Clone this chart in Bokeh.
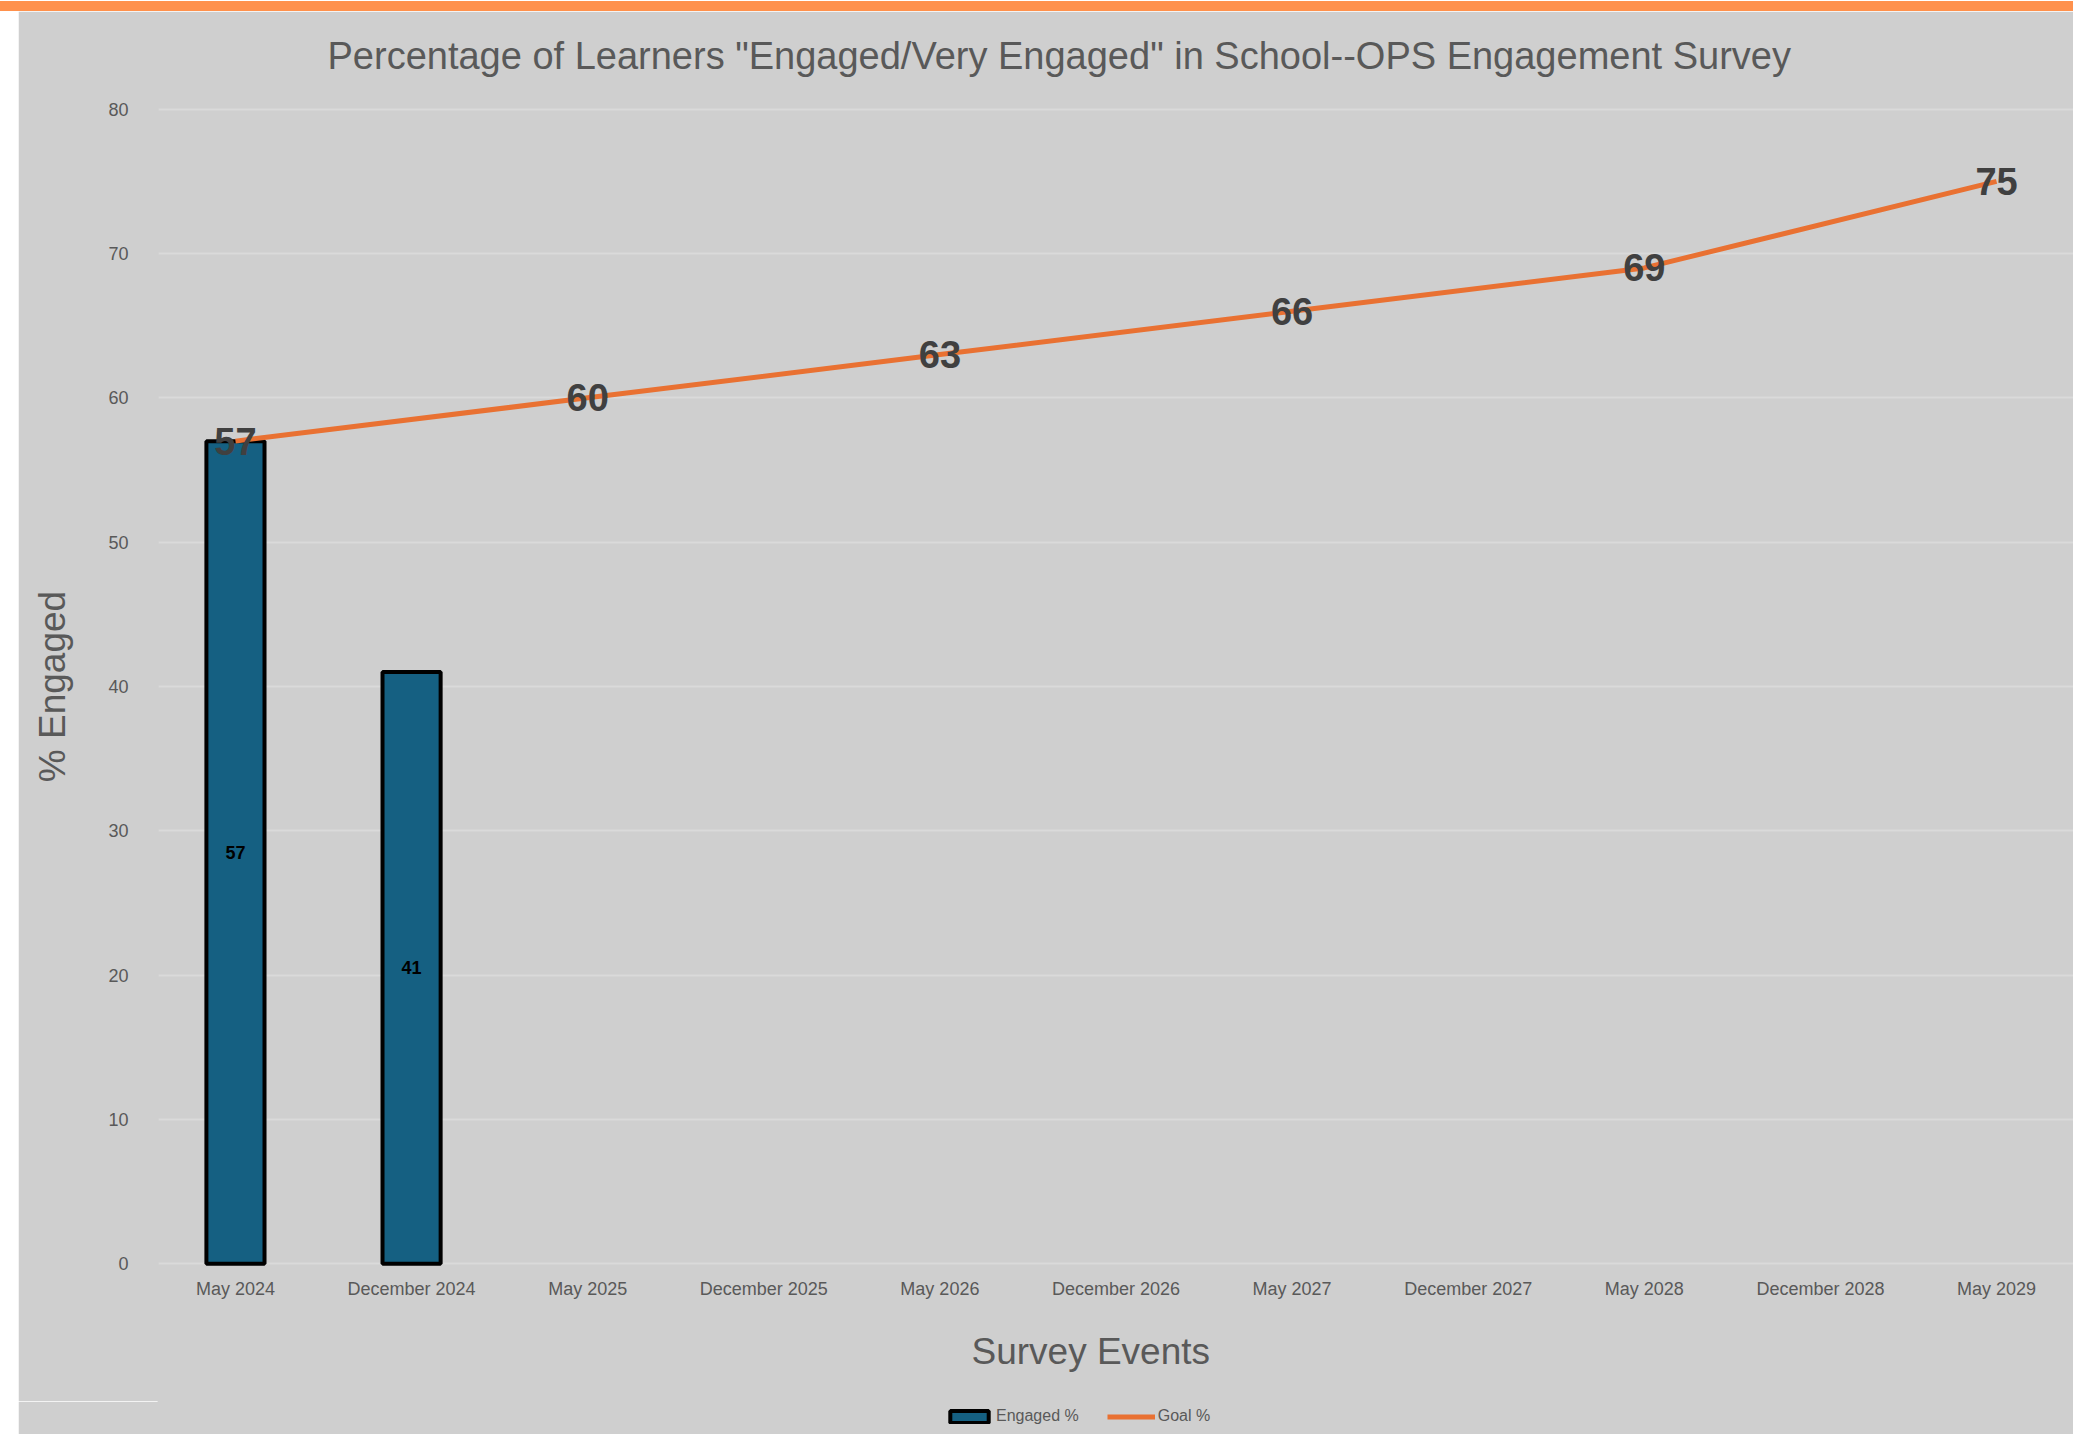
from bokeh.plotting import figure
from bokeh.models import ColumnDataSource, FactorRange, Range1d, Legend, LegendItem, Title
from bokeh.layouts import column, row
from bokeh.core.properties import value
from bokeh.embed import file_html
from bokeh.resources import INLINE

# ---- data ----
events = ["May 2024", "December 2024", "May 2025", "December 2025", "May 2026",
          "December 2026", "May 2027", "December 2027", "May 2028", "December 2028", "May 2029"]
engaged_events = ["May 2024", "December 2024"]
engaged_pct = [57, 41]
goal_events = ["May 2024", "May 2025", "May 2026", "May 2027", "May 2028", "May 2029"]
goal_pct = [57, 60, 63, 66, 69, 75]
y_ticks = [0, 10, 20, 30, 40, 50, 60, 70, 80]

BG = "#cfcfcf"
GRID = "#dadada"
TXT = "#595959"
BAR = "#156082"
ORANGE = "#e97132"
BAND = "#ff914d"
FONT = "Liberation Sans"


def blank(w, h, color, **kw):
    opts = dict(x_range=Range1d(0, 1), y_range=Range1d(0, 1), min_border=0)
    opts.update(kw)
    f = figure(width=w, height=h, output_backend="svg", toolbar_location=None,
               x_axis_type=None, y_axis_type=None,
               background_fill_color=color, border_fill_color=color,
               outline_line_color=color, outline_line_width=2, **opts)
    f.grid.visible = False
    return f


p = figure(width=2055, height=1390, output_backend="svg", toolbar_location=None,
           x_range=FactorRange(factors=events, range_padding=-0.063, range_padding_units="absolute"),
           y_range=Range1d(-0.6, 80.6),
           min_border_left=140, min_border_right=0, min_border_top=89, min_border_bottom=129,
           background_fill_color=BG, border_fill_color=BG,
           outline_line_color=BG, outline_line_width=2)

p.title = Title(text='Percentage of Learners "Engaged/Very Engaged" in School--OPS Engagement Survey',
                align="left", offset=169, text_font=FONT, text_font_size="38px",
                text_font_style="normal", text_color=TXT, standoff=43, vertical_align="top")

# bars
bar_src = ColumnDataSource(dict(x=engaged_events, top=engaged_pct,
                                mid=[v / 2 for v in engaged_pct],
                                lab=[str(v) for v in engaged_pct]))
bars = p.vbar(x="x", top="top", width=0.33, source=bar_src, fill_color=BAR,
              line_color="black", line_width=4)
p.text(x="x", y="mid", text="lab", source=bar_src, text_align="center", text_baseline="middle",
       text_font=value(FONT), text_font_size="18px", text_font_style="bold",
       text_color="black")

# goal line
goal_src = ColumnDataSource(dict(x=goal_events, y=goal_pct, lab=[str(v) for v in goal_pct]))
gl = p.line(x="x", y="y", source=goal_src, line_color=ORANGE, line_width=5)
p.text(x="x", y="y", text="lab", source=goal_src, text_align="center", text_baseline="middle",
       text_font=value(FONT), text_font_size="38px", text_font_style="bold",
       text_color="#404040")

# axes
p.yaxis.ticker = y_ticks
p.ygrid.ticker = y_ticks
p.xgrid.grid_line_color = None
p.ygrid.grid_line_color = GRID
p.ygrid.grid_line_width = 2
for ax in (p.xaxis[0], p.yaxis[0]):
    ax.axis_line_color = None
    ax.major_tick_line_color = None
    ax.minor_tick_line_color = None
    ax.major_tick_out = 0
    ax.major_tick_in = 0
    ax.major_label_text_color = TXT
    ax.axis_label_text_color = TXT
    ax.axis_label_text_font_style = "normal"
    ax.axis_label_text_font = FONT
    ax.major_label_text_font = FONT

p.yaxis.major_label_text_font_size = "18px"
p.yaxis.major_label_standoff = 30
p.yaxis.axis_label = "% Engaged"
p.yaxis.axis_label_text_font_size = "37px"
p.yaxis.axis_label_standoff = 32

p.xaxis.major_label_text_font_size = "18px"
p.xaxis.major_label_standoff = 6

p.add_layout(Title(text="Survey Events", align="left", offset=813, text_font=FONT,
                   text_font_size="37px", text_font_style="normal", text_color=TXT,
                   standoff=54), "below")

# legend strip: hidden renderers with the same styles, used only as legend glyphs
lf = blank(2055, 33, BG, x_range=FactorRange(factors=events), y_range=Range1d(-501, -500),
           min_border_left=140)
lb = lf.vbar(x=engaged_events, top=engaged_pct, width=0.33, fill_color=BAR,
             line_color="black", line_width=4, visible=False)
ll = lf.line(x=goal_events, y=goal_pct, line_color=ORANGE, line_width=5, visible=False)
legend = Legend(items=[LegendItem(label="Engaged %", renderers=[lb]),
                       LegendItem(label="Goal %", renderers=[ll])],
                orientation="horizontal", location=(787, 9),
                background_fill_alpha=0, border_line_color=None,
                inactive_fill_alpha=0,
                label_text_font=FONT, label_text_font_size="16px",
                label_text_color=TXT, glyph_width=48, glyph_height=15,
                label_standoff=3, spacing=28, margin=0, padding=5)
lf.add_layout(legend)

band = blank(2073, 11, BAND)
left_strip = blank(18, 1423, "white")

layout = column(band, row(left_strip, column(p, lf, spacing=0), spacing=0), spacing=0)

html = file_html(layout, INLINE)
open("out.html", "w").write(html)
